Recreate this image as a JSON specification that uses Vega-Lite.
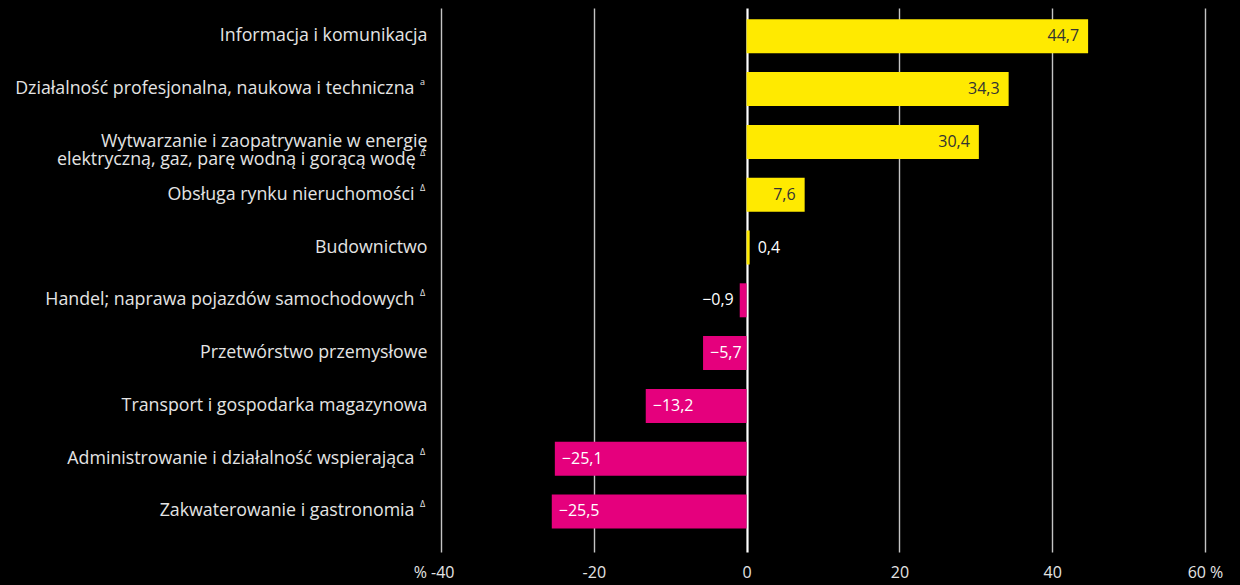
{
  "$schema": "https://vega.github.io/schema/vega-lite/v6.json",
  "width": 764,
  "height": 544,
  "autosize": {"type": "none"},
  "padding": {"left": 441, "top": 8, "right": 35, "bottom": 33},
  "background": "#000000",
  "config": {
    "view": {"stroke": null},
    "font": "Open Sans",
    "locale": {
      "number": {"decimal": ",", "thousands": " ", "grouping": [3], "currency": ["", ""], "minus": "\u2212"}
    }
  },
  "data": {
    "values": [
      {"sektor": "Informacja i komunikacja", "marker": "", "wartosc": 44.7},
      {"sektor": "Działalność profesjonalna, naukowa i techniczna", "marker": "a", "wartosc": 34.3},
      {"sektor": "Wytwarzanie i zaopatrywanie w energię|elektryczną, gaz, parę wodną i gorącą wodę\u2002\u2009\u200b", "marker": "\nΔ", "wartosc": 30.4},
      {"sektor": "Obsługa rynku nieruchomości", "marker": "Δ", "wartosc": 7.6},
      {"sektor": "Budownictwo", "marker": "", "wartosc": 0.4},
      {"sektor": "Handel; naprawa pojazdów samochodowych", "marker": "Δ", "wartosc": -0.9},
      {"sektor": "Przetwórstwo przemysłowe", "marker": "", "wartosc": -5.7},
      {"sektor": "Transport i gospodarka magazynowa", "marker": "", "wartosc": -13.2},
      {"sektor": "Administrowanie i działalność wspierająca", "marker": "Δ", "wartosc": -25.1},
      {"sektor": "Zakwaterowanie i gastronomia", "marker": "Δ", "wartosc": -25.5}
    ]
  },
  "encoding": {
    "y": {
      "field": "sektor",
      "type": "nominal",
      "sort": null,
      "scale": {"paddingInner": 0.356, "paddingOuter": 0.33, "align": 0.325},
      "axis": {
        "title": null,
        "domain": false,
        "ticks": false,
        "grid": false,
        "labelExpr": "split(datum.label, '|')",
        "labelFontSize": 17.8,
        "labelColor": "#e4e4e4",
        "labelPadding": {
          "condition": {
            "test": "datum.value === 'Działalność profesjonalna, naukowa i techniczna' || datum.value === 'Obsługa rynku nieruchomości' || datum.value === 'Handel; naprawa pojazdów samochodowych' || datum.value === 'Administrowanie i działalność wspierająca' || datum.value === 'Zakwaterowanie i gastronomia'",
            "value": 27
          },
          "value": 14
        },
        "labelLimit": 600,
        "labelLineHeight": 18.5
      }
    }
  },
  "layer": [
    {
      "mark": {"type": "bar"},
      "encoding": {
        "x": {
          "field": "wartosc",
          "type": "quantitative",
          "scale": {"domain": [-40, 60], "nice": false, "zero": true},
          "axis": {
            "title": null,
            "values": [-40, -20, 0, 20, 40, 60],
            "domain": false,
            "ticks": false,
            "grid": true,
            "gridColor": {"condition": {"test": "datum.value === 0", "value": "#ffffff"}, "value": "#c4c4c4"},
            "gridWidth": {"condition": {"test": "datum.value === 0", "value": 2.2}, "value": 1.4},
            "gridOpacity": 1,
            "labelExpr": "datum.value === -40 ? '% -40' : datum.value === 60 ? '60 %' : '' + datum.value",
            "labelAlign": {"condition": {"test": "datum.value === -40", "value": "right"}, "value": "center"},
            "labelOffset": {"condition": {"test": "datum.value === -40", "value": 13}, "value": 0},
            "labelFontSize": 16,
            "labelColor": "#e4e4e4",
            "labelPadding": 12,
            "labelFlush": false,
            "labelOverlap": false
          }
        },
        "color": {
          "condition": {"test": "datum.wartosc < 0", "value": "#e5007d"},
          "value": "#ffea00"
        }
      }
    },
    {
      "transform": [{"filter": "datum.wartosc > 2"}],
      "mark": {"type": "text", "align": "right", "baseline": "middle", "dx": -9, "fontSize": 16, "color": "#333333"},
      "encoding": {
        "x": {"field": "wartosc", "type": "quantitative"},
        "text": {"field": "wartosc", "type": "quantitative", "format": ".1f"}
      }
    },
    {
      "transform": [{"filter": "datum.wartosc >= 0 && datum.wartosc <= 2"}],
      "mark": {"type": "text", "align": "left", "baseline": "middle", "dx": 8, "fontSize": 16, "color": "#ffffff"},
      "encoding": {
        "x": {"field": "wartosc", "type": "quantitative"},
        "text": {"field": "wartosc", "type": "quantitative", "format": ".1f"}
      }
    },
    {
      "transform": [{"filter": "datum.wartosc < 0 && datum.wartosc >= -2"}],
      "mark": {"type": "text", "align": "right", "baseline": "middle", "dx": -6, "fontSize": 16, "color": "#ffffff"},
      "encoding": {
        "x": {"field": "wartosc", "type": "quantitative"},
        "text": {"field": "wartosc", "type": "quantitative", "format": ".1f"}
      }
    },
    {
      "transform": [{"filter": "datum.wartosc < -2"}],
      "mark": {"type": "text", "align": "left", "baseline": "middle", "dx": 7, "fontSize": 16, "color": "#ffffff"},
      "encoding": {
        "x": {"field": "wartosc", "type": "quantitative"},
        "text": {"field": "wartosc", "type": "quantitative", "format": ".1f"}
      }
    },
    {
      "transform": [{"filter": "datum.marker != ''"}],
      "mark": {"type": "text", "align": "left", "baseline": "top", "dx": -21, "dy": -11, "fontSize": 9, "lineBreak": "\n", "lineHeight": 18, "color": "#e4e4e4"},
      "encoding": {
        "x": {"datum": -40},
        "text": {"field": "marker"}
      }
    }
  ]
}
